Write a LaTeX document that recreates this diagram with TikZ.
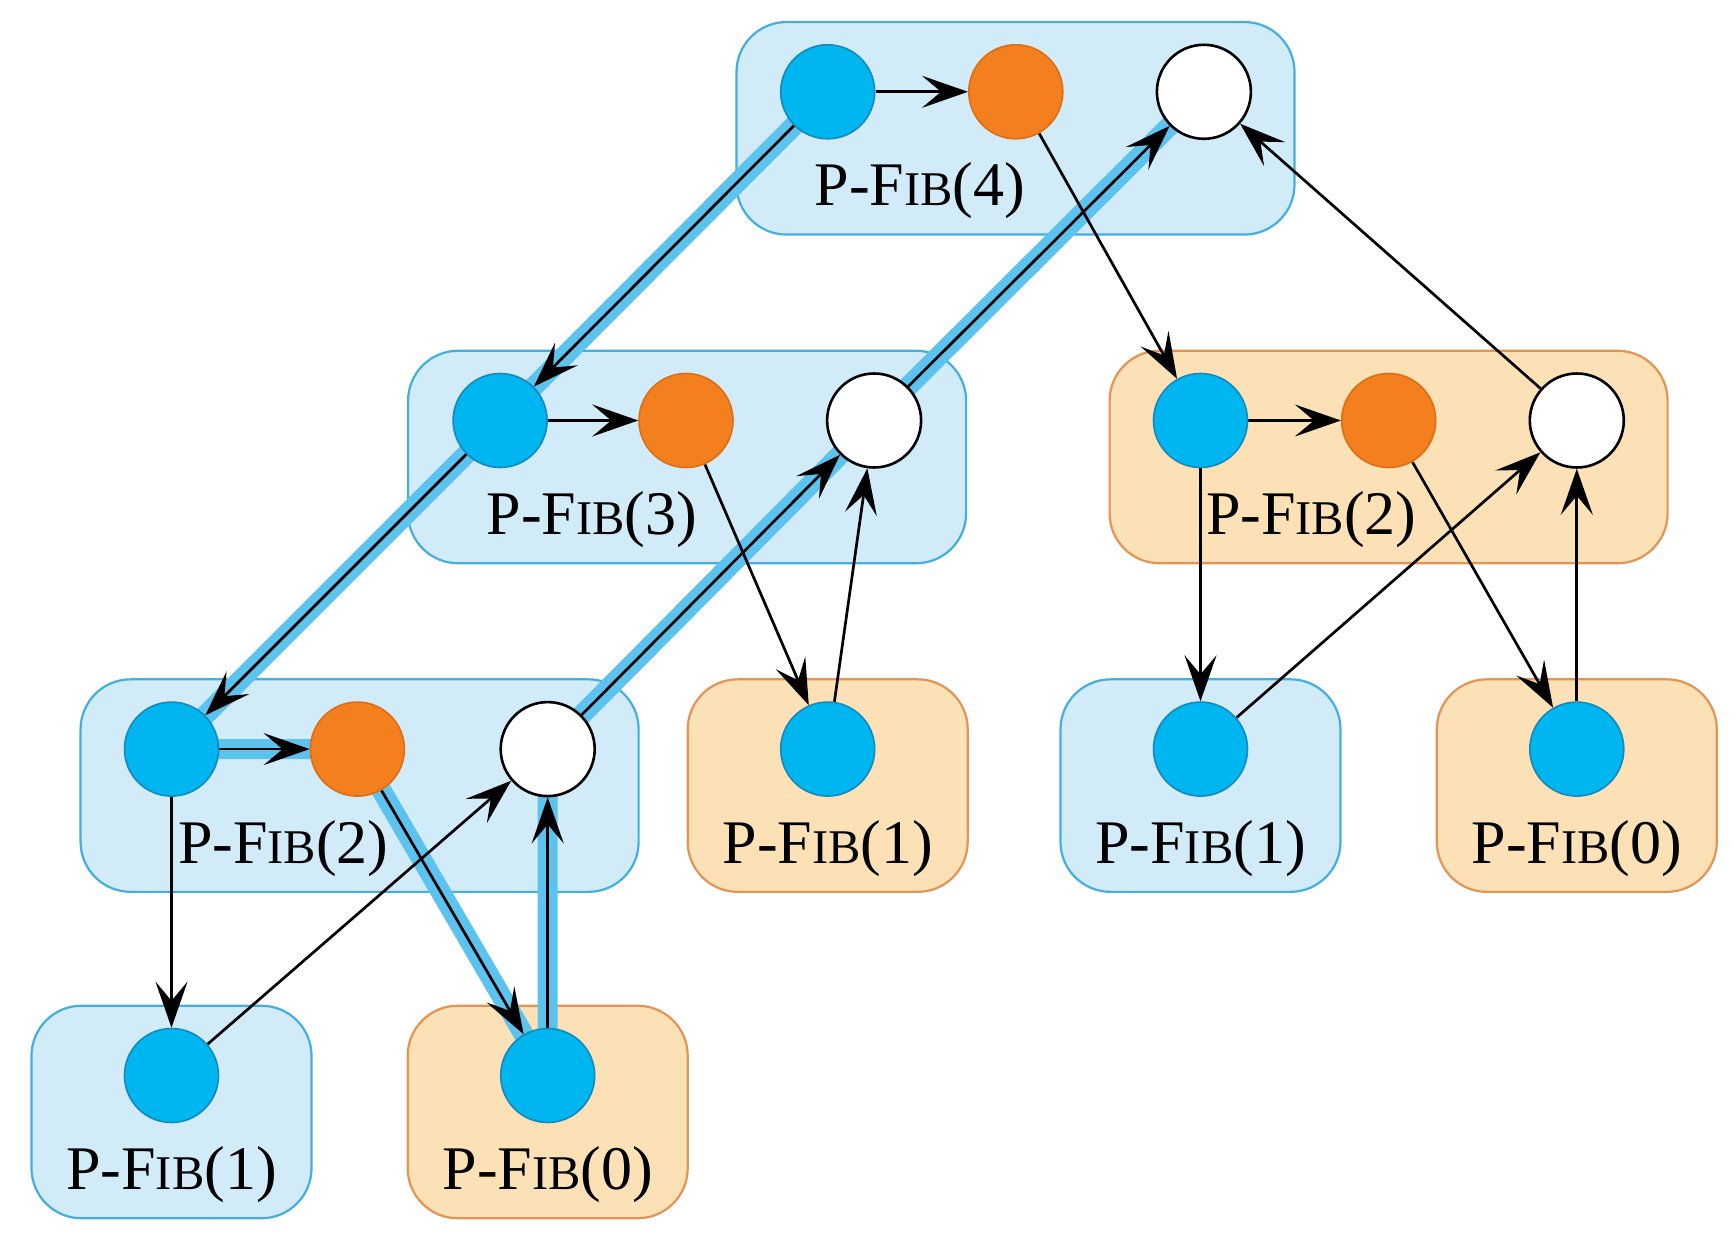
\documentclass[tikz,border=0pt]{standalone}
\usepackage{fontspec}
\setmainfont{Liberation Serif}
\usetikzlibrary{arrows.meta}
\pgfdeclarelayer{boxes}
\pgfdeclarelayer{bands}
\pgfdeclarelayer{edges}
\pgfsetlayers{boxes,bands,edges,main}

\definecolor{nodeblue}{HTML}{00B6F0}
\definecolor{nodeblueedge}{HTML}{1588BC}
\definecolor{nodeorange}{HTML}{F47F1F}
\definecolor{nodeorangeedge}{HTML}{DD6E14}
\definecolor{boxbluefill}{HTML}{D1EBF9}
\definecolor{boxblueedge}{HTML}{45AEE0}
\definecolor{boxorangefill}{HTML}{FDE1B6}
\definecolor{boxorangeedge}{HTML}{E39452}
\definecolor{bandblue}{HTML}{5CC2EE}

% procedure name set with hand-made small capitals
\newcommand\pfib[1]{P-F{\fontsize{24.2bp}{26bp}\selectfont IB}(#1)}

\begin{document}
\begin{tikzpicture}[x=0.5bp,y=-0.5bp,
  circ/.style={circle, minimum size=47bp, inner sep=0pt, line width=0.8bp},
  bn/.style={circ, fill=nodeblue, draw=nodeblueedge},
  on/.style={circ, fill=nodeorange, draw=nodeorangeedge},
  wn/.style={circ, fill=white, draw=black, line width=1.3bp},
  box/.style={rectangle, rounded corners=25bp, minimum height=106.25bp, inner sep=0pt, line width=1.1bp},
  widebox/.style={box, minimum width=279bp},
  narrowbox/.style={box, minimum width=140bp},
  bluebox/.style={fill=boxbluefill, draw=boxblueedge},
  orangebox/.style={fill=boxorangefill, draw=boxorangeedge},
  edge/.style={line width=1.35bp, -{Stealth[length=23bp, width=16bp, inset=9.5bp]}},
  band/.style={line width=10bp, draw=bandblue},
  lbl/.style={anchor=base, inner sep=0pt, font=\fontsize{31bp}{33bp}\selectfont}]
\useasboundingbox (0,0) rectangle (1735,1251);

% call nodes: entry (blue), middle (orange), exit (white)
\node[bn] (b4)  at (827.7,91.8) {};
\node[on] (o4)  at (1015.8,91.8) {};
\node[wn] (w4)  at (1203.9,91.8) {};

\node[bn] (b3)  at (500.1,420.5) {};
\node[on] (o3)  at (686.0,420.5) {};
\node[wn] (w3)  at (874.1,420.5) {};
\node[bn] (b2r) at (1200.5,420.5) {};
\node[on] (o2r) at (1388.7,420.5) {};
\node[wn] (w2r) at (1576.8,420.5) {};

\node[bn] (b2l) at (171.5,749.1) {};
\node[on] (o2l) at (357.4,749.1) {};
\node[wn] (w2l) at (547.7,749.1) {};
\node[bn] (b1m) at (827.7,749.1) {};
\node[bn] (b1r) at (1200.5,749.1) {};
\node[bn] (b0r) at (1576.8,749.1) {};

\node[bn] (b1l) at (171.5,1075.5) {};
\node[bn] (b0l) at (547.7,1075.5) {};

% one rounded box per call
\begin{pgfonlayer}{boxes}
  \node[widebox, bluebox]    (box4)  at (1015.5,128.3) {};
  \node[widebox, bluebox]    (box3)  at (687.1,457.0) {};
  \node[widebox, orangebox]  (box2r) at (1388.6,457.0) {};
  \node[widebox, bluebox]    (box2l) at (359.6,785.6) {};
  \node[narrowbox, orangebox](box1m) at (827.7,785.6) {};
  \node[narrowbox, bluebox]  (box1r) at (1200.5,785.6) {};
  \node[narrowbox, orangebox](box0r) at (1576.8,785.6) {};
  \node[narrowbox, bluebox]  (box1l) at (171.5,1112.0) {};
  \node[narrowbox, orangebox](box0l) at (547.7,1112.0) {};
\end{pgfonlayer}

% call labels
\node[lbl] (l4)  at (920.0,205.8)  {\pfib{4}};
\node[lbl] (l3)  at (592.0,534.5)  {\pfib{3}};
\node[lbl] (l2r) at (1311.2,534.5) {\pfib{2}};
\node[lbl] (l2l) at (283.3,863.1)  {\pfib{2}};
\node[lbl] (l1m) at (827.7,863.1)  {\pfib{1}};
\node[lbl] (l1r) at (1200.5,863.1) {\pfib{1}};
\node[lbl] (l0r) at (1576.8,863.1) {\pfib{0}};
\node[lbl] (l1l) at (171.5,1189.5) {\pfib{1}};
\node[lbl] (l0l) at (547.7,1189.5) {\pfib{0}};

% shaded path through the computation
\begin{pgfonlayer}{bands}
  \draw[band] (b4.center) -- (b3.center) -- (b2l.center) -- (o2l.center)
              -- (b0l.center) -- (w2l.center) -- (w3.center) -- (w4.center);
\end{pgfonlayer}

% dependency edges
\begin{pgfonlayer}{edges}
  \draw[edge] (b4) -- (o4);
  \draw[edge] (b4) -- (b3);
  \draw[edge] (o4) -- (b2r);
  \draw[edge] (w3) -- (w4);
  \draw[edge] (w2r) -- (w4);

  \draw[edge] (b3) -- (o3);
  \draw[edge] (b3) -- (b2l);
  \draw[edge] (o3) -- (b1m);
  \draw[edge] (b1m) -- (w3);
  \draw[edge] (w2l) -- (w3);

  \draw[edge] (b2r) -- (o2r);
  \draw[edge] (b2r) -- (b1r);
  \draw[edge] (o2r) -- (b0r);
  \draw[edge] (b1r) -- (w2r);
  \draw[edge] (b0r) -- (w2r);

  \draw[edge] (b2l) -- (o2l);
  \draw[edge] (b2l) -- (b1l);
  \draw[edge] (o2l) -- (b0l);
  \draw[edge] (b1l) -- (w2l);
  \draw[edge] (b0l) -- (w2l);
\end{pgfonlayer}
\end{tikzpicture}
\end{document}
